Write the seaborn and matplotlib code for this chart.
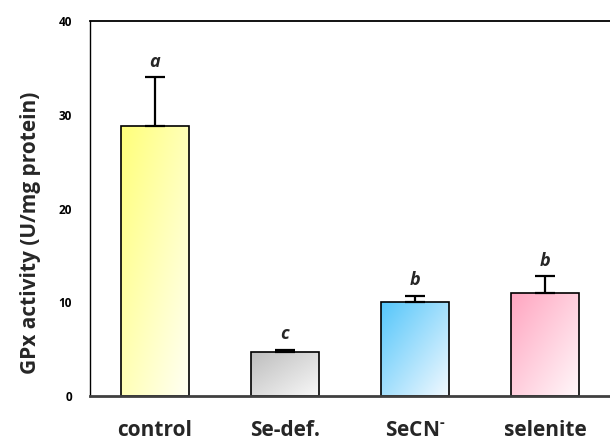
import numpy as np
import pandas as pd
import matplotlib
matplotlib.use("Agg")
import matplotlib.pyplot as plt
import matplotlib.colors as mcolors
import seaborn as sns

categories = ["control", "Se-def.", "SeCN$^{\\text{-}}$", "selenite"]
means = [28.8, 4.7, 10.0, 11.0]
errors = [5.2, 0.25, 0.7, 1.75]
letters = ["a", "c", "b", "b"]
top_colors = ["#FFFF7A", "#BDBDBD", "#55C6FA", "#FFA5C0"]
end_colors = ["#FFFFF4", "#F8F8F8", "#F2F9FF", "#FFF8FA"]
y_ticks = [0, 10, 20, 30, 40]

sns.set_style("white")
plt.rcParams["font.family"] = ["Open Sans", "DejaVu Sans"]
plt.rcParams["font.weight"] = "bold"
plt.rcParams["mathtext.fontset"] = "custom"
plt.rcParams["mathtext.rm"] = "Open Sans:bold"
plt.rcParams["mathtext.bf"] = "Open Sans:bold"
plt.rcParams["mathtext.it"] = "Open Sans:bold:italic"
plt.rcParams["mathtext.default"] = "bf"

df = pd.DataFrame({"group": categories, "value": means})

fig = plt.figure(figsize=(6.10, 4.41), dpi=100)
ax = fig.add_axes([90 / 610, 45 / 441, 520 / 610, 375 / 441])

sns.barplot(data=df, x="group", y="value", hue="group", palette=top_colors,
            legend=False, width=0.52, edgecolor="black", linewidth=1.2,
            errorbar=None, ax=ax, zorder=3)

# gradient fills
patches = sorted(ax.patches, key=lambda p: p.get_x())
for i, p in enumerate(patches):
    x0, y0 = p.get_x(), p.get_y()
    w, h = p.get_width(), p.get_height()
    n = 100
    u = np.linspace(0, 1, n)[None, :]
    v = np.linspace(0, 1, n)[:, None]
    t = np.clip((u + v) / 2.0, 0, 1)
    c0 = np.array(mcolors.to_rgb(top_colors[i]))
    c1 = np.array(mcolors.to_rgb(end_colors[i]))
    img = c0[None, None, :] * (1 - t[..., None]) + c1[None, None, :] * t[..., None]
    im = ax.imshow(img, extent=[x0, x0 + w, y0, y0 + h], origin="upper",
                   aspect="auto", zorder=2, interpolation="bilinear")
    im.set_clip_path(p)
    p.set_facecolor("none")
    p.set_zorder(4)

xpos = np.arange(len(categories))
ax.errorbar(xpos, means, yerr=[np.zeros(len(errors)), errors], fmt="none",
            ecolor="black", elinewidth=1.6, capsize=7.5, capthick=1.6, zorder=5)

for i in range(len(categories)):
    ax.text(xpos[i], means[i] + errors[i] + 1.1, letters[i], ha="center",
            va="baseline", fontsize=13, fontstyle="italic", fontweight="bold")

ax.set_xlim(-0.5, 3.5)
ax.set_ylim(0, 40)
ax.set_yticks(y_ticks)
ax.set_yticklabels([str(t) for t in y_ticks], fontsize=8.5, fontweight="bold")
ax.tick_params(axis="y", direction="in", length=5, width=1, pad=13, colors="black")
ax.tick_params(axis="x", length=0, pad=17, labelsize=15)
for lab in ax.get_xticklabels():
    lab.set_fontweight("bold")

ax.set_xlabel("")
ax.set_ylabel("GPx activity (U/mg protein)", fontsize=15, fontweight="bold")
ax.yaxis.set_label_coords(-0.094, 0.435)

ax.spines["right"].set_visible(False)
ax.spines["top"].set_color("black")
ax.spines["top"].set_linewidth(1.3)
ax.spines["left"].set_color("black")
ax.spines["left"].set_linewidth(1.0)
ax.spines["bottom"].set_color("#404040")
ax.spines["bottom"].set_linewidth(2.0)
ax.spines["bottom"].set_zorder(6)

fig.savefig("out.png", dpi=100)
